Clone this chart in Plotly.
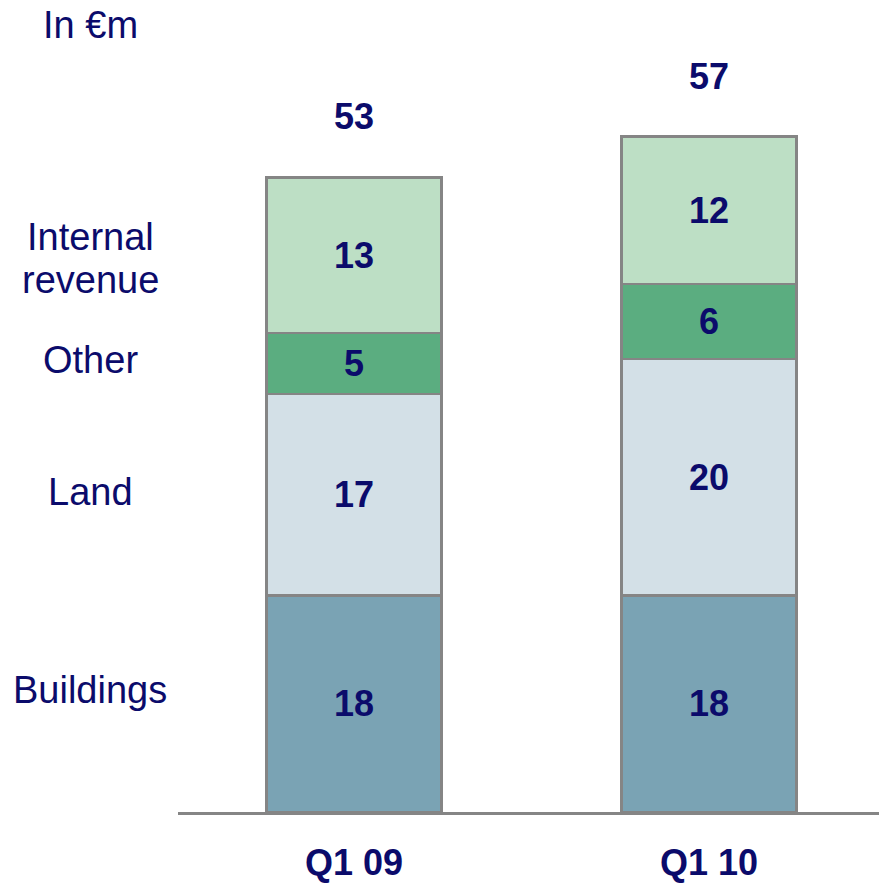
import plotly.graph_objects as go

categories = ["Q1 09", "Q1 10"]
# displayed (rounded) values
buildings = [18, 18]
land = [17, 20]
other = [5, 6]
internal = [13, 12]
totals = [53, 57]
# bar heights (unrounded estimates)
buildings_h = [18.18, 18.18]
land_h = [16.95, 19.89]
other_h = [5.13, 6.30]
internal_h = [13.08, 12.38]

series_names = ["Buildings", "Land", "Other", "Internal revenue"]
series_labels = [buildings, land, other, internal]
series_heights = [buildings_h, land_h, other_h, internal_h]
series_colors = ["#7AA3B4", "#D3E0E7", "#5BAD80", "#BDDFC5"]
left_labels = ["Buildings", "Land", "Other", "Internal", "revenue"]
unit_label = "In €m"

NAVY = "#0B0B6B"
FONT = "Liberation Sans"
W, H = 879, 888
L, B, T = 178, 76, 0

fig = go.Figure()
for name, hts, labs, col in zip(series_names, series_heights, series_labels, series_colors):
    fig.add_trace(go.Bar(
        x=categories, y=hts, name=name,
        marker=dict(color=col, line=dict(color="#858585", width=2.5)),
        width=0.493,
        text=labs, texttemplate="%{text}",
        textposition="inside", insidetextanchor="middle",
        constraintext="none",
        textfont=dict(family=FONT, size=36, color=NAVY, weight="bold"),
        hoverinfo="skip",
    ))

stack_tops = [sum(h[i] for h in series_heights) for i in range(len(categories))]
for c, top, t in zip(categories, stack_tops, totals):
    fig.add_annotation(x=c, y=top, xref="x", yref="y", text=str(t),
                       showarrow=False, yanchor="bottom", yshift=38,
                       font=dict(family=FONT, size=36, color=NAVY, weight="bold"))

# left labels (pixel centres)
label_px_y = [690, 492, 360, 237, 280]
lab_x = (90 - L) / (W - L)
plot_h = H - B - T
for lab, py in zip(left_labels, label_px_y):
    fig.add_annotation(x=lab_x, y=(H - B - py) / plot_h, xref="paper", yref="paper",
                       text=lab, showarrow=False, xanchor="center", yanchor="middle",
                       font=dict(family=FONT, size=38, color=NAVY))
fig.add_annotation(x=lab_x, y=(H - B - 25) / plot_h, xref="paper", yref="paper",
                   text=unit_label, showarrow=False, xanchor="center", yanchor="middle",
                   font=dict(family=FONT, size=38, color=NAVY))

fig.update_layout(
    barmode="stack", width=W, height=H,
    margin=dict(l=L, r=0, t=T, b=B, autoexpand=False),
    paper_bgcolor="white", plot_bgcolor="white",
    showlegend=False,
    xaxis=dict(range=[-0.496, 1.479], showline=True, linecolor="#858585", linewidth=3,
               showgrid=False, zeroline=False, ticks="", automargin=False,
               tickfont=dict(family=FONT, size=36, color=NAVY, weight="bold"),
               ticklabelstandoff=17),
    yaxis=dict(range=[0, 68.24], visible=False, showgrid=False, zeroline=False,
               automargin=False),
)
fig.write_html("out.html", config={"displayModeBar": False},
               post_script="document.body.style.margin='0';document.body.style.overflow='hidden';")
